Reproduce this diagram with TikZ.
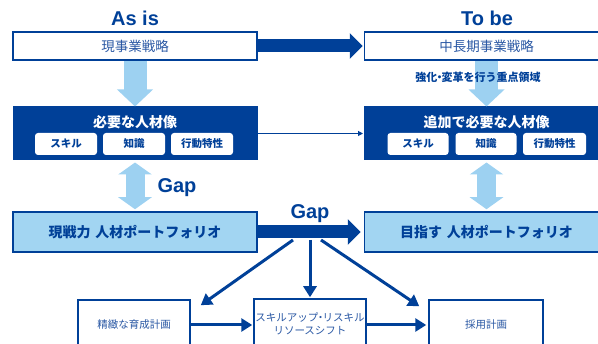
\documentclass[tikz,border=0pt]{standalone}
\usepackage{fontspec}
\setmainfont{Liberation Sans}
\newfontfamily\jp{Noto Sans CJK JP}
\usetikzlibrary{arrows.meta}
\definecolor{dblue}{HTML}{004098}
\definecolor{lblue}{HTML}{A2D5F2}
\definecolor{larrow}{HTML}{9DD1F1}
\definecolor{tblue}{HTML}{2A58A4}
\newcommand{\nakaguro}{\kern-.3em・\kern-.3em}
\begin{document}
\begin{tikzpicture}[x=1pt,y=-1pt,
  whitebox/.style={draw=dblue,line width=1.5pt,fill=white,inner sep=0pt,text=tblue,font=\jp\fontsize{13.5}{15}\selectfont},
  darkbox/.style={fill=dblue,draw=dblue,line width=1pt,inner sep=0pt,minimum width=244pt,minimum height=53pt},
  darktitle/.style={text=white,font=\jp\bfseries\fontsize{14}{16}\selectfont,inner sep=0pt},
  subbox/.style={fill=white,rounded corners=3pt,inner sep=0pt,minimum height=22pt,text=dblue,font=\jp\bfseries\fontsize{10.5}{12}\selectfont},
  portbox/.style={draw=dblue,line width=1.5pt,fill=lblue,inner sep=0pt,minimum width=244pt,minimum height=40pt,text=dblue,font=\jp\bfseries\fontsize{14}{16}\selectfont},
  planbox/.style={draw=dblue,line width=1.5pt,fill=white,inner sep=0pt,text=tblue,align=center,minimum height=50pt,font=\jp\fontsize{10.5}{13}\selectfont},
  headtext/.style={text=dblue,font=\bfseries\fontsize{20}{24}\selectfont,inner sep=0pt},
  bigarrow/.style={draw=dblue,line width=13pt,-{Triangle[length=13pt,width=25pt]}},
  lightdown/.style={draw=larrow,line width=23pt,-{Triangle[length=17pt,width=35pt]}},
  lightboth/.style={draw=larrow,line width=19pt,{Triangle[length=12pt,width=33pt]}-{Triangle[length=12pt,width=33pt]}},
  thinarrow/.style={draw=dblue,line width=1pt,-{Triangle[length=5pt,width=5pt]}},
  planarrow/.style={draw=dblue,line width=3pt,-{Triangle[length=11pt,width=13pt]}}
]
\useasboundingbox (0,0) rectangle (598,344);

% headings
\node[headtext] (asis) at (135,18) {As is};
\node[headtext] (tobe) at (487,18) {To be};

% top strategy boxes
\node[whitebox,minimum width=244pt,minimum height=28pt] (tl) at (135,46) {現事業戦略};
\node[whitebox,minimum width=244pt,minimum height=28pt] (tr) at (486.5,46) {中長期事業戦略};

% dark boxes
\node[darkbox] (dl) at (135,133.5) {};
\node[darkbox] (dr) at (486.5,133.5) {};
\node[darktitle] (dlt) at (135,122) {必要な人材像};
\node[darktitle] (drt) at (486.5,122) {追加で必要な人材像};
\node[subbox,minimum width=62pt] (ls1) at (66,144) {スキル};
\node[subbox,minimum width=62pt] (ls2) at (134,144) {知識};
\node[subbox,minimum width=62pt] (ls3) at (202,144) {行動特性};
\node[subbox,minimum width=61pt] (rs1) at (418,144) {スキル};
\node[subbox,minimum width=61pt] (rs2) at (486,144) {知識};
\node[subbox,minimum width=63pt] (rs3) at (554.5,144) {行動特性};

% portfolio boxes
\node[portbox] (pl) at (135,232) {現戦力\hspace{0.35em}人材ポートフォリオ};
\node[portbox] (pr) at (486.5,232) {目指す\hspace{0.35em}人材ポートフォリオ};

% plan boxes (their bottoms run past the lower edge)
\node[planbox,minimum width=112pt] (ikusei) at (134,325) {精緻な育成計画};
\node[planbox,minimum width=112pt] (mid) at (310,324) {スキルアップ\nakaguro リスキル\\リソースシフト};
\node[planbox,minimum width=114pt] (saiyo) at (486,325) {採用計画};

% connectors
\draw[bigarrow] (tl.east) -- ([xshift=-1pt]tr.west);
\draw[lightdown] (tl.south) -- (dl.north);
\draw[lightdown] (tr.south) -- (dr.north);
\node[text=dblue,font=\jp\bfseries\fontsize{11}{13}\selectfont,inner sep=0pt] (focus) at (478,77) {強化\nakaguro 変革を行う重点領域};
\draw[thinarrow] (dl.east) -- ([xshift=-1pt]dr.west);
\draw[lightboth] ([yshift=-2pt]dl.south) -- ([yshift=2pt]pl.north);
\draw[lightboth] ([yshift=-2pt]dr.south) -- ([yshift=2pt]pr.north);
\node[headtext] (gap1) at (177,188) {Gap};
\draw[bigarrow] (pl.east) -- ([xshift=-3pt]pr.west);
\node[headtext] (gap2) at (310,214) {Gap};

\coordinate (g1) at (293,240);
\coordinate (g2) at (310,240);
\coordinate (g3) at (321,240);
\draw[planarrow] (g1) -- ([xshift=10pt,yshift=-6pt]ikusei.north east);
\draw[planarrow] (g2) -- ([yshift=1pt]mid.north);
\draw[planarrow] (g3) -- ([xshift=-9pt,yshift=-7pt]saiyo.north west);
\draw[planarrow] (ikusei.east) -- ([xshift=-1pt]ikusei.east -| mid.west);
\draw[planarrow] (saiyo.west -| mid.east) -- ([xshift=-2pt]saiyo.west);
\end{tikzpicture}
\end{document}
